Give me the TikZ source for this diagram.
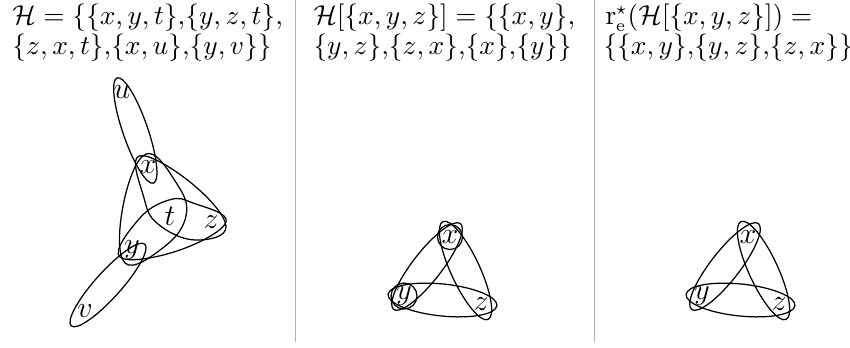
\documentclass[tikz,border=0pt]{standalone}
\usepackage{amsmath,amssymb}
\begin{document}
\begin{tikzpicture}[x=0.4pt,y=-0.4pt,
  lbl/.style={inner sep=0pt, font=\large},
  hed/.style={draw=black, line width=0.5pt},
  sepline/.style={draw=black!30, line width=0.6pt},
  head/.style={anchor=base west, inner sep=0pt, font=\fontsize{10.6pt}{12.5pt}\selectfont}]
\useasboundingbox (0,0) rectangle (850,347);
% separators
\draw[sepline] (295.5,0) -- (295.5,342);
\draw[sepline] (594.5,0) -- (594.5,342);
% headings
\node[head] (h1a) at (12,24.5) {$\mathcal{H} = \{\{x,y,t\}{,}\{y,z,t\}{,}$};
\node[head] (h1b) at (12,54) {$\{z,x,t\}{,}\{x,u\}{,}\{y,v\}\}$};
\node[head] (h2a) at (313,24.5) {$\mathcal{H}[\{x,y,z\}] = \{\{x,y\}{,}$};
\node[head] (h2b) at (313,54) {$\{y,z\}{,}\{z,x\}{,}\{x\}{,}\{y\}\}$};
\node[head] (h3a) at (605,24.5) {$\mathrm{r}^{\star}_{\mathrm{e}}(\mathcal{H}[\{x,y,z\}]) =$};
\node[head] (h3b) at (603,54) {$\{\{x,y\}{,}\{y,z\}{,}\{z,x\}\}$};
% panel 1 vertices
\node[lbl] (u) at (122,92) {$u$};
\node[lbl] (x) at (148,167) {$x$};
\node[lbl] (t) at (170,216) {$t$};
\node[lbl] (z) at (211,222) {$z$};
\node[lbl] (y) at (132,250) {$y$};
\node[lbl] (v) at (85,311) {$v$};
% panel 1 hyperedges
\draw[hed, rotate around={109:(135.3,130.5)}] (135.3,130.5) ellipse [x radius=55.7, y radius=12.5];
\draw[hed, rotate around={48:(108,285)}] (108,285) ellipse [x radius=55, y radius=13];
\draw[hed] plot[smooth cycle, tension=0.7] coordinates {(139,156) (190,182) (226,226) (195,240) (158,224) (144,198)};
\draw[hed] plot[smooth cycle, tension=0.7] coordinates {(146,154) (177,184) (186,216) (164,247) (125,263) (123,206)};
\draw[hed] plot[smooth cycle, tension=0.7] coordinates {(120,257) (177,251) (226,222) (193,203) (169,200) (139,219)};
% panel 2
\node[lbl] (x2) at (450,237) {$x$};
\node[lbl] (y2) at (404,296) {$y$};
\node[lbl] (z2) at (481,304) {$z$};
\draw[hed, rotate around={52.1:(427,266.5)}] (427,266.5) ellipse [x radius=54.4, y radius=14.5];
\draw[hed, rotate around={114.8:(465.5,270.5)}] (465.5,270.5) ellipse [x radius=53.9, y radius=14.5];
\draw[hed, rotate around={-5.9:(442.5,300)}] (442.5,300) ellipse [x radius=54.7, y radius=16];
\draw[hed] (x2.center) circle [radius=12.5];
\draw[hed] (y2.center) circle [radius=13];
% panel 3
\node[lbl] (x3) at (748,237) {$x$};
\node[lbl] (y3) at (702,296) {$y$};
\node[lbl] (z3) at (779,304) {$z$};
\draw[hed, rotate around={52.1:(725,266.5)}] (725,266.5) ellipse [x radius=54.4, y radius=14.5];
\draw[hed, rotate around={114.8:(763.5,270.5)}] (763.5,270.5) ellipse [x radius=53.9, y radius=14.5];
\draw[hed, rotate around={-5.9:(740.5,300)}] (740.5,300) ellipse [x radius=54.7, y radius=16];
\end{tikzpicture}
\end{document}
